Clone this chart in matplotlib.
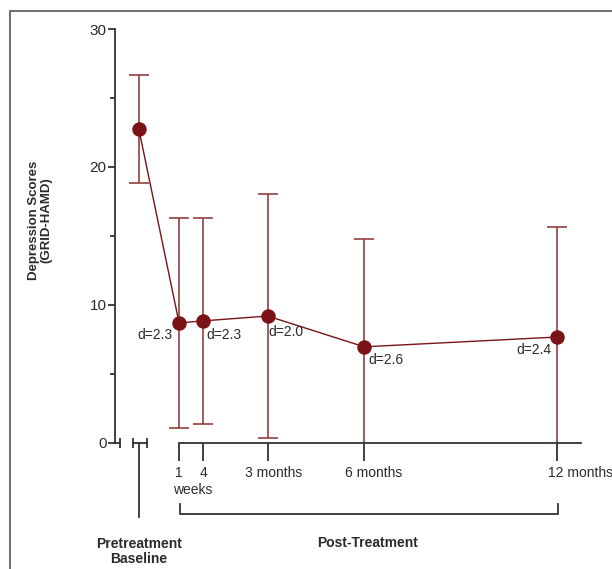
import matplotlib
matplotlib.use('Agg')
import matplotlib.pyplot as plt
from matplotlib.patches import Rectangle
from matplotlib.ticker import MultipleLocator

plt.rcParams['font.family'] = ['Liberation Sans', 'DejaVu Sans']

# data (x in months, baseline at -1)
time_x = [-1, 0.25, 1, 3, 6, 12]
mean_score = [22.75, 8.7, 8.85, 9.2, 6.97, 7.68]
sd_score = [3.9, 7.6, 7.45, 8.85, 7.8, 8.0]
d_labels = ['', 'd=2.3', 'd=2.3', 'd=2.0', 'd=2.6', 'd=2.4']
d_offsets = [(0, 0), (-7, -12), (3, -14), (1, -16), (4, -13), (-6, -13)]
d_align = ['left', 'right', 'left', 'left', 'left', 'right']

post_ticks = [0.25, 1, 3, 6, 12]
post_labels = ['1', '4', '3 months', '6 months', '12 months']
post_label_dx = [0, 0, 6, 9, 23]

red = '#7a1315'
err_col = '#94403f'
txt = '#2b2b2b'
axc = '#333333'

fig = plt.figure(figsize=(6.12, 5.69), dpi=100)
ax = fig.add_axes([115 / 612, 1 - 443 / 569, 466.6 / 612, 414 / 569])
ax.set_xlim(-1.74, 12.75)
ax.set_ylim(0, 30)

# frame round the figure
fig.patches.append(Rectangle((9.5 / 612, -0.1), 1.2, 1 - 11.5 / 569 + 0.1,
                             transform=fig.transFigure, fill=False,
                             edgecolor='#555555', lw=1.2))

# error bars + means
ax.errorbar(time_x, mean_score, yerr=sd_score, fmt='none', ecolor=err_col,
            elinewidth=1.2, capsize=7, capthick=1.2, zorder=2)
ax.plot(time_x, mean_score, color=red, lw=1.0, marker='o', markersize=9.4,
        markerfacecolor=red, markeredgecolor=red, zorder=3)

for i in range(len(time_x)):
    if d_labels[i]:
        ax.annotate(d_labels[i], xy=(time_x[i], mean_score[i]),
                    xytext=d_offsets[i], textcoords='offset pixels',
                    ha=d_align[i], va='center', fontsize=10, color=txt)

# axes styling
for s in ['top', 'right']:
    ax.spines[s].set_visible(False)
ax.spines['left'].set_bounds(0, 30)
ax.spines['bottom'].set_bounds(0.25, 12.73)
ax.spines['left'].set_color(axc)
ax.spines['bottom'].set_color(axc)
ax.spines['left'].set_linewidth(1.3)
ax.spines['bottom'].set_linewidth(1.3)

ax.yaxis.set_major_locator(MultipleLocator(10))
ax.yaxis.set_minor_locator(MultipleLocator(5))
ax.tick_params(axis='y', which='major', length=5, width=1.3, color=axc,
               labelsize=11, labelcolor=txt, pad=1)
ax.tick_params(axis='y', which='minor', length=3.5, width=1.3, color=axc)

ax.set_xticks(post_ticks)
ax.set_xticklabels([])
ax.tick_params(axis='x', which='major', length=13, width=1.3, color=axc)

for xt, lab, dx in zip(post_ticks, post_labels, post_label_dx):
    ax.annotate(lab, xy=(xt, 0), xytext=(dx, -30), textcoords='offset pixels',
                ha='center', va='center', fontsize=10, color=txt,
                annotation_clip=False)
ax.annotate('weeks', xy=(0.25, 0), xytext=(14, -47), textcoords='offset pixels',
            ha='center', va='center', fontsize=10, color=txt,
            annotation_clip=False)

# broken x axis stubs on the left
ax.plot([-1.74, -1.58], [0, 0], color=axc, lw=1.3, clip_on=False)
ax.plot([-1.58], [0], color=axc, marker='|', markersize=7, mew=1.3, clip_on=False)
ax.plot([-1.18, -0.74], [0, 0], color=axc, lw=1.3, marker='|', markersize=7,
        mew=1.3, clip_on=False)
ax.plot([-1, -1], [0, -5.36], color=axc, lw=1.3, clip_on=False)

# bracket for post-treatment
ax.plot([0.27, 0.27, 12.02, 12.02], [-4.45, -5.14, -5.14, -4.45], color=axc,
        lw=1.3, clip_on=False)

ax.text(-1, -7.85, 'Pretreatment\nBaseline', ha='center', va='center',
        fontsize=10, fontweight='bold', color=txt, linespacing=1.08)
ax.text(6.09, -7.25, 'Post-Treatment', ha='center', va='center',
        fontsize=10, fontweight='bold', color=txt)

fig.text(40.5 / 612, 1 - 220 / 569, 'Depression Scores\n(GRID-HAMD)',
         rotation=90, ha='center', va='center', multialignment='center',
         fontsize=9.5, fontweight='bold', color=txt, linespacing=1.0)

fig.savefig('out.png', dpi=100)
